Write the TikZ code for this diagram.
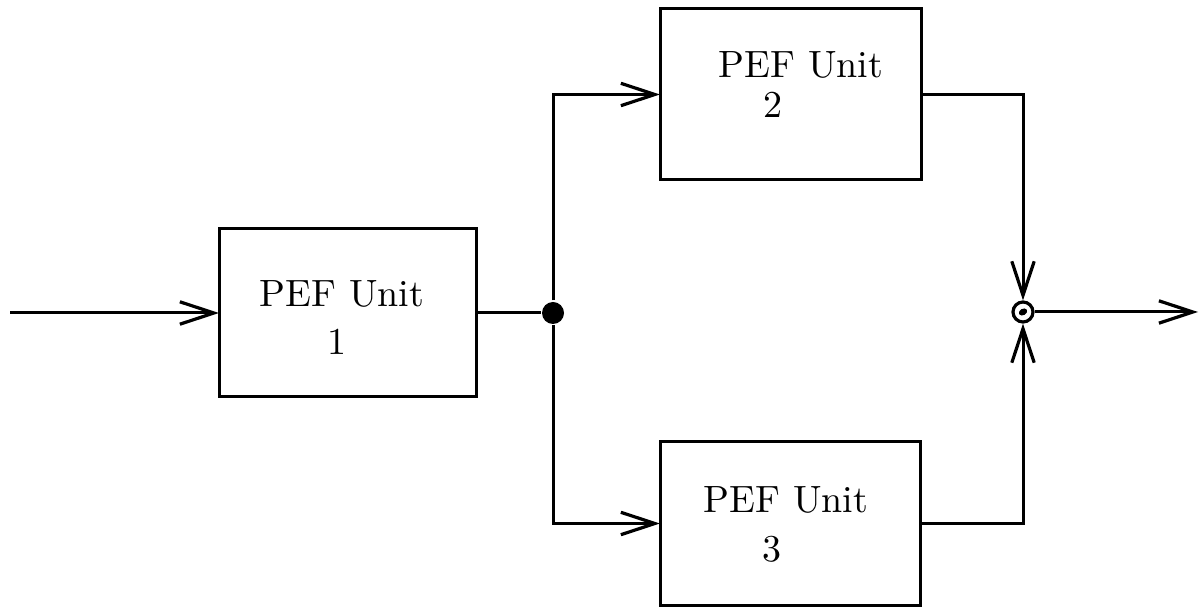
\documentclass[tikz,border=0pt]{standalone}
\usetikzlibrary{arrows.meta}
\begin{document}
\begin{tikzpicture}[x=0.25pt,y=-0.25pt,
  line width=0.75pt,
  unitbox/.style={draw,rectangle,inner sep=0pt,outer sep=0pt},
  lbl/.style={inner sep=0pt,anchor=base,font=\fontsize{9.5}{11}\selectfont},
  flow/.style={-{Straight Barb[length=8.5pt,width=5.6pt,line width=0.8pt]}},
  junction/.style={circle,fill=black,inner sep=0pt,minimum size=5.5pt},
  summer/.style={circle,draw,fill=white,inner sep=0pt,minimum size=5pt,line width=0.8pt}]
\useasboundingbox (0,0) rectangle (1199,608);

% processing units
\node[unitbox,minimum width=64.25pt,minimum height=42pt] (b1) at (347.5,313) {};
\node[unitbox,minimum width=65.25pt,minimum height=42.75pt] (b2) at (790.5,94.5) {};
\node[unitbox,minimum width=65pt,minimum height=40.75pt] (b3) at (790,523.5) {};

\node[lbl] (t1) at (342,307) {PEF Unit};
\node[lbl] (n1) at (337,355) {1};
\node[lbl] (t2) at (801,78) {PEF Unit};
\node[lbl] (n2) at (773,118) {2};
\node[lbl] (t3) at (786,513) {PEF Unit};
\node[lbl] (n3) at (772,562) {3};

% branch point and summing point
\node[junction] (J) at (553,313) {};
\node[summer] (S) at (1023,312) {};
\fill[rotate around={30:(S.center)}] (S.center) ellipse (1.1pt and 0.8pt);

\coordinate (in) at (10,313);
\coordinate (out) at (1198,312);

% signal paths
\draw[flow] (in) -- (b1.west);
\draw (b1.east) -- (J);
\draw[flow] (J) |- (b2.west);
\draw[flow] (J) |- (b3.west);
\draw[flow] (b2.east) -| (S.north);
\draw[flow] (b3.east) -| (S.south);
\draw[flow] (S.east) -- (out);
\end{tikzpicture}
\end{document}
